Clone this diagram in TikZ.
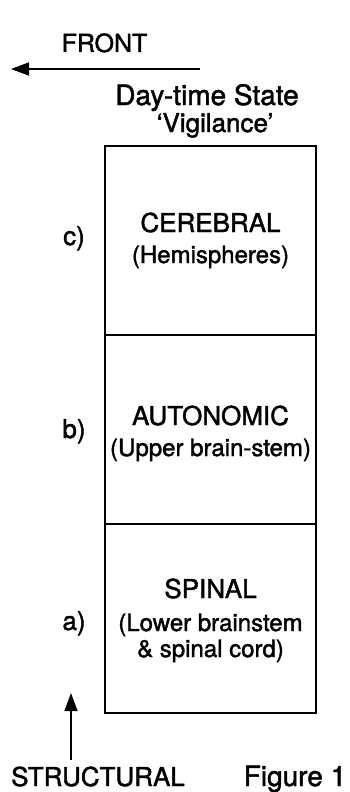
\documentclass[tikz,border=0pt]{standalone}
\usepackage{fontspec}
\setmainfont{TeX Gyre Heros}[FakeBold=1.6]
\usetikzlibrary{arrows.meta}
\begin{document}
\begin{tikzpicture}[x=1pt,y=-1pt,
  txt/.style={inner sep=0pt, anchor=base, font=\fontsize{26}{30}\selectfont},
  subtxt/.style={inner sep=0pt, anchor=base, font=\fontsize{24}{28}\selectfont},
  bigtxt/.style={inner sep=0pt, anchor=base, font=\fontsize{28}{32}\selectfont},
  region/.style={draw, line width=1.6pt, minimum width=211pt, minimum height=189pt, inner sep=0pt},
  arr/.style={line width=1.5pt, -{Triangle[length=18pt,width=13pt]}}]
\useasboundingbox (0,0) rectangle (350,792);
% boxes
\node[region] (cer) at (210.5,240.5) {};
\node[region] (aut) at (210.5,429.5) {};
\node[region] (spi) at (210.5,618.5) {};
% box texts
\node[txt] (cerT) at (210.5,232) {CEREBRAL};
\node[subtxt] (cerS) at (210.5,263) {(Hemispheres)};
\node[txt] (autT) at (210.5,425) {AUTONOMIC};
\node[subtxt] (autS) at (210.5,456) {(Upper brain-stem)};
\node[txt] (spiT) at (210.5,598) {SPINAL};
\node[subtxt] (spiS1) at (210.5,631) {(Lower brainstem};
\node[subtxt] (spiS2) at (210.5,657) {\& spinal cord)};
% side labels
\node[txt] (lc) at (74,245) {c)};
\node[txt] (lb) at (74,438) {b)};
\node[txt] (la) at (74,630) {a)};
% top
\node[txt, font=\fontsize{25}{30}\selectfont] (front) at (104.5,52) {FRONT};
\coordinate (fs) at (200,69);
\coordinate (fe) at (11,69);
\draw[arr] (fs) -- (fe);
\node[bigtxt] (day) at (207,105) {Day-time State};
\node[txt] (vig) at (215,132) {`Vigilance'};
% bottom
\coordinate (us) at (71,760);
\coordinate (ue) at (71,693);
\draw[arr] (us) -- (ue);
\node[txt] (struct) at (98,786) {STRUCTURAL};
\node[bigtxt] (fig) at (295,786) {Figure 1};
\end{tikzpicture}
\end{document}
